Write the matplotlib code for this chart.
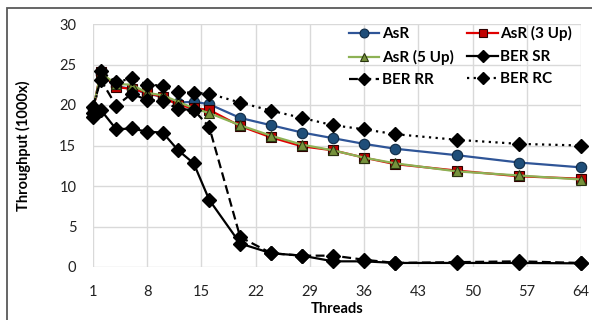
import matplotlib
matplotlib.use("Agg")
import matplotlib.pyplot as plt
from matplotlib.patches import Rectangle

threads = [1, 2, 4, 6, 8, 10, 12, 14, 16, 20, 24, 28, 32, 36, 40, 48, 56, 64]
asr = [19.5, 23.8, 22.3, 22.0, 21.4, 21.0, 20.3, 20.4, 20.1, 18.4, 17.5, 16.6, 15.9, 15.2, 14.6, 13.8, 12.9, 12.3]
asr_3up = [19.3, 24.1, 22.2, 22.0, 21.5, 21.0, 20.0, 19.6, 19.4, 17.4, 16.0, 14.9, 14.4, 13.5, 12.7, 11.9, 11.2, 10.9]
asr_5up = [19.5, 23.9, 22.6, 22.5, 21.5, 21.2, 20.4, 19.6, 19.0, 17.5, 16.2, 15.1, 14.4, 13.5, 12.8, 11.8, 11.3, 10.8]
ber_sr = [19.0, 19.4, 17.0, 17.1, 16.7, 16.6, 14.4, 12.8, 8.3, 2.9, 1.7, 1.4, 0.7, 0.7, 0.5, 0.5, 0.5, 0.45]
ber_rr = [19.8, 23.1, 19.9, 21.4, 20.6, 20.5, 19.5, 19.4, 17.3, 3.7, 1.7, 1.4, 1.4, 0.9, 0.5, 0.6, 0.7, 0.5]
ber_rc = [18.5, 24.2, 22.8, 23.3, 22.5, 22.4, 21.6, 21.5, 21.4, 20.3, 19.3, 18.4, 17.5, 17.0, 16.4, 15.7, 15.2, 15.0]

xticks = [1, 8, 15, 22, 29, 36, 43, 50, 57, 64]
yticks = [0, 5, 10, 15, 20, 25, 30]

plt.rcParams['font.family'] = ['Lato', 'DejaVu Sans']

fig = plt.figure(figsize=(5.92, 3.2), dpi=100)
ax = fig.add_axes([93/592, 1-267/320, (581-93)/592, (267-24)/320])

ms = 7.5
l_asr, = ax.plot(threads, asr, color='#2F5597', lw=1.6, marker='o', ms=ms,
                 mfc='#1F4E79', mec='#0F2A45', mew=0.8, label='AsR', clip_on=False, zorder=3)
l_3, = ax.plot(threads, asr_3up, color='#E00000', lw=1.6, marker='s', ms=ms-1,
               mfc='#C00000', mec='#300000', mew=0.8, label='AsR (3 Up)', clip_on=False, zorder=4)
l_5, = ax.plot(threads, asr_5up, color='#8DB255', lw=1.6, marker='^', ms=ms,
               mfc='#76923C', mec='#2A3510', mew=0.8, label='AsR (5 Up)', clip_on=False, zorder=5)
dms = 7
l_sr, = ax.plot(threads, ber_sr, color='black', lw=1.6, marker='D', ms=dms,
                mfc='black', mec='black', label='BER SR', clip_on=False, zorder=6)
l_rr, = ax.plot(threads, ber_rr, color='black', lw=1.6, ls=(0, (4, 2)), marker='D', ms=dms,
                mfc='black', mec='black', label='BER RR', clip_on=False, zorder=6)
l_rc, = ax.plot(threads, ber_rc, color='black', lw=1.6, ls=(0, (1, 2)), marker='D', ms=dms,
                mfc='black', mec='black', label='BER RC', clip_on=False, zorder=6)

ax.set_xlim(1, 64)
ax.set_ylim(0, 30)
ax.set_xticks(xticks)
ax.set_yticks(yticks)
ax.grid(True, color='#D9D9D9', lw=1.0, zorder=0)
ax.set_axisbelow(True)
for s in ax.spines.values():
    s.set_visible(False)
ax.tick_params(axis='both', length=0, labelsize=10.5, colors='#222222')
ax.tick_params(axis='y', pad=12)
ax.tick_params(axis='x', pad=13)

ax.set_xlabel('Threads', fontsize=10.5, fontweight='bold', labelpad=2)
ax.set_ylabel('Throughput (1000x)', fontsize=10.5, fontweight='bold', labelpad=20)

leg = ax.legend(handles=[l_asr, l_5, l_rr, l_3, l_sr, l_rc], ncol=2,
                loc='upper right', bbox_to_anchor=((572-93)/488, 0.99), frameon=False,
                prop={'weight': 'bold', 'size': 11}, handlelength=2.0,
                handletextpad=0.15, columnspacing=0.9, labelspacing=0.55,
                borderaxespad=0.0, borderpad=0.0, markerscale=0.85)

fig.patches.append(Rectangle((7/592, -0.1), 1.2, 1.1 - 8/320, transform=fig.transFigure,
                             fill=False, edgecolor='#595959', lw=1.3))

fig.savefig('out.png', dpi=100)
